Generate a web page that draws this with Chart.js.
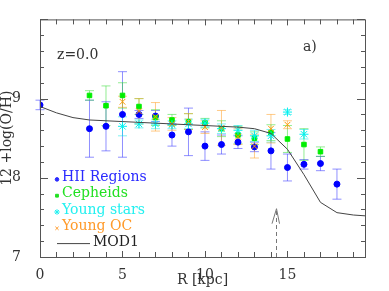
<!DOCTYPE html>
<html>
<head>
<meta charset="utf-8">
<script src="https://cdn.jsdelivr.net/npm/chart.js@4/dist/chart.umd.min.js"></script>
<style>
  body { margin: 0; background: #fff; }
  #wrap { width: 389px; height: 291px; }
</style>
</head>
<body>
<div id="wrap"><canvas id="myChart"></canvas></div>
<script>
// ---------------- data ----------------
var hiiR = [0, 3, 4, 5, 6, 7, 8, 9, 10, 11, 12, 13, 14, 15, 16, 17, 18];
var hiiV = [8.92, 8.62, 8.65, 8.80, 8.80, 8.78, 8.54, 8.58, 8.40, 8.42, 8.45, 8.39, 8.34, 8.13, 8.17, 8.18, 7.92];
var hiiE = [0.06, 0.36, 0.31, 0.54, 0.05, 0.07, 0.14, 0.30, 0.18, 0.12, 0.08, 0.06, 0.23, 0.17, 0.06, 0.09, 0.19];

var cephR = [3, 4, 5, 6, 7, 8, 9, 10, 11, 12, 13, 14, 15, 16, 17];
var cephV = [9.04, 8.91, 9.04, 8.90, 8.76, 8.73, 8.71, 8.69, 8.62, 8.54, 8.50, 8.57, 8.49, 8.42, 8.33];
var cephE = [0.06, 0.25, 0.16, 0.10, 0.10, 0.07, 0.10, 0.06, 0.10, 0.11, 0.08, 0.10, 0.17, 0.20, 0.06];

var ysR = [5, 6, 7, 8, 9, 10, 11, 12, 13, 14, 15, 16];
var ysV = [8.65, 8.68, 8.68, 8.67, 8.68, 8.69, 8.62, 8.60, 8.53, 8.53, 8.83, 8.55];
var ysE = [0.12, 0.05, 0.06, 0.05, 0.06, 0.05, 0.06, 0.06, 0.07, 0.08, 0.03, 0.06];

var ocR = [5, 6, 7, 8, 9, 10, 11, 12, 13, 14, 15];
var ocV = [8.96, 8.84, 8.77, 8.68, 8.71, 8.64, 8.63, 8.52, 8.40, 8.62, 8.67];
var ocE = [0.07, 0.16, 0.18, 0.08, 0.10, 0.08, 0.22, 0.10, 0.15, 0.18, 0.05];

var modR = [0, 1, 2, 3, 4, 5, 6, 7, 8, 9, 10, 11, 12, 13, 14, 15, 16, 17, 18, 19, 19.7];
var modV = [8.90, 8.82, 8.76, 8.73, 8.72, 8.71, 8.70, 8.69, 8.68, 8.67, 8.66, 8.65, 8.64, 8.62, 8.56, 8.36, 8.04, 7.69, 7.56, 7.53, 7.52];

var xLabels = [0, 5, 10, 15];
var yLabels = [7, 8, 9];

// dashed arrow (corotation marker)
var arrowR = 14.3;
var arrowFrom = 7.0;
var arrowTo = 7.61;

function pts(xs, ys) {
  return xs.map(function (x, i) { return { x: x, y: ys[i] }; });
}

Chart.defaults.font.family = "'DejaVu Serif', serif";
Chart.defaults.font.size = 14;
Chart.defaults.color = "#333";

var errColors = ["rgba(70,70,255,0.6)", "rgba(40,220,40,0.5)", "rgba(0,230,230,0.5)", "rgba(255,160,40,0.55)"];
var errData = [hiiE, cephE, ysE, ocE];
var legendColors = ["#2a2aff", "#22e022", "#22f0f0", "#ff9a2a", "#222"];

// ------------------ plugin: error bars, frame, ticks, legend -------------------
var decor = {
  id: "decor",
  beforeDatasetsDraw: function (chart) {
    var ctx = chart.ctx, xs = chart.scales.x, ys = chart.scales.y;
    ctx.save();
    ctx.lineWidth = 1;
    for (var d = 0; d < 4; d++) {
      var ds = chart.data.datasets[d];
      ctx.strokeStyle = errColors[d];
      ds.data.forEach(function (p, i) {
        var e = errData[d][i];
        var px = xs.getPixelForValue(p.x);
        var y1 = ys.getPixelForValue(p.y + e), y2 = ys.getPixelForValue(p.y - e);
        ctx.beginPath();
        ctx.moveTo(px, y1); ctx.lineTo(px, y2);
        ctx.moveTo(px - 4.5, y1); ctx.lineTo(px + 4.5, y1);
        ctx.moveTo(px - 4.5, y2); ctx.lineTo(px + 4.5, y2);
        ctx.stroke();
      });
    }
    ctx.restore();
  },
  afterDraw: function (chart) {
    var ctx = chart.ctx, a = chart.chartArea, xs = chart.scales.x, ys = chart.scales.y;
    ctx.save();
    ctx.strokeStyle = "#555";
    ctx.lineWidth = 1;
    ctx.strokeRect(a.left + 0.5, a.top + 0.5, a.right - a.left, a.bottom - a.top);
    ctx.beginPath();
    xs.ticks.forEach(function (t) {
      var px = Math.round(xs.getPixelForValue(t.value)) + 0.5;
      var len = xLabels.indexOf(t.value) >= 0 ? 6 : 5;
      ctx.moveTo(px, a.bottom); ctx.lineTo(px, a.bottom - len);
      ctx.moveTo(px, a.top); ctx.lineTo(px, a.top + len);
    });
    ys.ticks.forEach(function (t) {
      var py = Math.round(ys.getPixelForValue(t.value)) + 0.5;
      var major = Math.abs(t.value - Math.round(t.value)) < 1e-6;
      var len = major ? 8 : 4;
      ctx.moveTo(a.left, py); ctx.lineTo(a.left + len, py);
      ctx.moveTo(a.right, py); ctx.lineTo(a.right - len, py);
    });
    ctx.stroke();

    // dashed arrow
    var ax = Math.round(xs.getPixelForValue(arrowR)) + 0.5;
    var ay1 = ys.getPixelForValue(arrowFrom), ay2 = ys.getPixelForValue(arrowTo);
    ctx.strokeStyle = "#777";
    ctx.setLineDash([4, 3]);
    ctx.beginPath(); ctx.moveTo(ax, ay1); ctx.lineTo(ax, ay2); ctx.stroke();
    ctx.setLineDash([]);
    ctx.beginPath();
    ctx.moveTo(ax - 4.5, ay2 + 15); ctx.lineTo(ax, ay2); ctx.lineTo(ax + 3, ay2 + 15);
    ctx.stroke();

    // texts
    ctx.fillStyle = "#333";
    ctx.font = "14px 'DejaVu Serif'";
    ctx.textBaseline = "middle";
    ctx.textAlign = "left";
    ctx.fillText("z=0.0", a.left + 17, a.top + 36);
    ctx.fillText("a)", a.left + 263, a.top + 28);

    // legend
    var lx = a.left + 17, ly = a.top + 158, step = 16.3;
    chart.data.datasets.forEach(function (ds, i) {
      var y = ly + i * step;
      ctx.fillStyle = legendColors[i];
      ctx.strokeStyle = legendColors[i];
      if (i < 4) {
        var st = ["circle", "rect", "star", "crossRot"][i];
        var r = [1.8, 2, 2.8, 2.3][i];
        Chart.helpers.drawPoint(ctx, { pointStyle: st, radius: r, borderWidth: 1, rotation: 0 }, lx, y + 2);
        ctx.fillText(ds.label, lx + 5, y);
      } else {
        ctx.strokeStyle = "#444";
        ctx.beginPath(); ctx.moveTo(lx, y + 1); ctx.lineTo(lx + 33, y + 1); ctx.stroke();
        ctx.fillText(ds.label, lx + 36, y);
      }
    });
    ctx.restore();
  }
};

new Chart("myChart", {
  type: "scatter",
  data: {
    datasets: [{
      label: "HII Regions",
      data: pts(hiiR, hiiV),
      pointStyle: "circle",
      pointRadius: 3,
      backgroundColor: "#0000ff",
      borderColor: "#0000ff",
      order: 4
    }, {
      label: "Cepheids",
      data: pts(cephR, cephV),
      pointStyle: "rect",
      pointRadius: 3.2,
      backgroundColor: "#00ee00",
      borderColor: "#00ee00",
      order: 3
    }, {
      label: "Young stars",
      data: pts(ysR, ysV),
      pointStyle: "star",
      pointRadius: 4.5,
      borderWidth: 1,
      backgroundColor: "#00ffff",
      borderColor: "#00f0f0",
      order: 2
    }, {
      label: "Young OC",
      data: pts(ocR, ocV),
      pointStyle: "crossRot",
      pointRadius: 4,
      borderWidth: 1,
      backgroundColor: "#ff9900",
      borderColor: "#ff9900",
      order: 1
    }, {
      label: "MOD1",
      type: "line",
      data: pts(modR, modV),
      borderColor: "#444",
      borderWidth: 1,
      pointRadius: 0,
      fill: false,
      tension: 0,
      order: 0
    }]
  },
  options: {
    responsive: true,
    maintainAspectRatio: false,
    animation: false,
    layout: { padding: { top: 15, right: 24, left: 0, bottom: 0 } },
    plugins: {
      legend: { display: false },
      tooltip: { enabled: false }
    },
    scales: {
      x: {
        type: "linear",
        min: 0,
        max: 19.7,
        grid: { display: false },
        border: { display: false },
        ticks: {
          stepSize: 1,
          includeBounds: false,
          autoSkip: false,
          maxRotation: 0,
          padding: 2,
          color: "#333",
          callback: function (v) { return xLabels.indexOf(v) >= 0 ? String(v) : ""; }
        },
        title: { display: true, text: "R [kpc]", color: "#333", padding: { top: 0, bottom: 2 } },
        afterFit: function (s) { s.height = 34; }
      },
      y: {
        type: "linear",
        min: 7,
        max: 10,
        grid: { display: false },
        border: { display: false },
        ticks: {
          stepSize: 0.2,
          autoSkip: false,
          padding: 11,
          color: "#333",
          callback: function (v) {
            var r = Math.round(v);
            return (Math.abs(v - r) < 1e-6 && yLabels.indexOf(r) >= 0) ? String(r) : "";
          }
        },
        title: { display: true, text: "12 +log(O/H)", color: "#333", font: { size: 14, lineHeight: 1 }, padding: { top: 0, bottom: 0 } },
        afterFit: function (s) { s.width = 40; }
      }
    }
  },
  plugins: [decor]
});
</script>
</body>
</html>
